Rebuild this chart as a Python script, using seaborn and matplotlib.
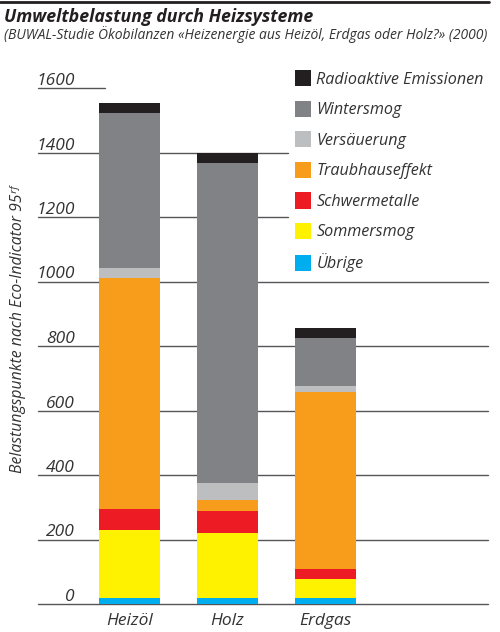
import numpy as np
import pandas as pd
import matplotlib.pyplot as plt
import seaborn as sns
from matplotlib.patches import Patch
from matplotlib.lines import Line2D

# values (Belastungspunkte)
systems = ["Heizöl", "Holz", "Erdgas"]
components = ["Übrige", "Sommersmog", "Schwermetalle", "Traubhauseffekt",
              "Versäuerung", "Wintersmog", "Radioaktive Emissionen"]
uebrige = [20, 20, 20]
sommersmog = [210, 199, 56]
schwermetalle = [66, 68, 32]
traubhaus = [714, 34, 549]
versaeuerung = [33, 53, 19]
wintersmog = [479, 993, 149]
radioaktiv = [31, 31, 31]
colors = ["#00aeef", "#fff200", "#ed1c24", "#f89c1c", "#bcbec0", "#808285", "#231f20"]
y_ticks = [0, 200, 400, 600, 800, 1000, 1200, 1400, 1600]

FONT = ["Open Sans", "Noto Sans", "DejaVu Sans"]

sns.set_style("white")
plt.rcParams["font.family"] = FONT

df = pd.DataFrame({"System": systems})
for name, vals in zip(components, [uebrige, sommersmog, schwermetalle, traubhaus,
                                   versaeuerung, wintersmog, radioaktiv]):
    df[name] = vals
cum = df.copy()
cum[components] = df[components].cumsum(axis=1)

fig = plt.figure(figsize=(5, 6.32), dpi=100)
ax = fig.add_axes([38 / 500, 28 / 632, 450 / 500, 516 / 632])

# stacked bars: draw the cumulative totals, tallest first
for comp, col in reversed(list(zip(components, colors))):
    sns.barplot(data=cum, x="System", y=comp, order=systems, color=col,
                saturation=1, width=0.622, linewidth=0, errorbar=None,
                ax=ax, zorder=2)

ax.set_xlim(-0.934, 3.658)
ax.set_ylim(0, 1600)
sns.despine(ax=ax, left=True, bottom=True)
ax.set_xlabel("")
ax.set_ylabel("")
ax.set_yticks([])
ax.tick_params(axis="x", length=0, pad=6.5, labelsize=12.5)
for lab in ax.get_xticklabels():
    lab.set_fontstyle("italic")
    lab.set_color("#333333")

# grid lines (some stop at the legend)
line_end = {1600: 0.149, 1400: 0.556, 1200: 0.556}
for v in y_ticks:
    ax.axhline(v, xmin=0, xmax=line_end.get(v, 1.0), color="#555557",
               lw=1.0, zorder=1, clip_on=False)
    ax.annotate(str(v), xy=(0.082, v), xycoords=ax.get_yaxis_transform(),
                xytext=(0, 3), textcoords="offset pixels", ha="right",
                va="baseline", fontsize=12.5, style="italic", color="#333333")

handles = [Patch(facecolor=c, edgecolor="none") for c in colors][::-1]
ax.legend(handles, components[::-1], loc="upper left",
          bbox_to_anchor=(295 / 500, 1 - 70 / 632), bbox_transform=fig.transFigure,
          frameon=False, borderpad=0, borderaxespad=0,
          handlelength=1.0, handleheight=1.19, handletextpad=0.32,
          labelspacing=0.8, prop={"style": "italic", "size": 11.6})
for t in ax.get_legend().get_texts():
    t.set_color("#333333")

ax.set_axisbelow(True)

fig.text(0.036, 1 - 330 / 632, "Belastungspunkte nach Eco-Indicator 95ʳᶠ",
         rotation=90, ha="center", va="center", fontsize=11.3, style="italic",
         color="#333333")

fig.add_artist(Line2D([0, 489 / 500], [1 - 1.5 / 632, 1 - 1.5 / 632],
                      color="#231f20", lw=2))
fig.text(4 / 500, 1 - 21.5 / 632, "Umweltbelastung durch Heizsysteme",
         fontsize=12.8, weight="bold", style="italic", va="baseline",
         color="#231f20")
fig.text(4 / 500, 1 - 39 / 632,
         "(BUWAL-Studie Ökobilanzen «Heizenergie aus Heizöl, Erdgas oder Holz?» (2000)",
         fontsize=10, style="italic", va="baseline", color="#333333")

fig.savefig("out.png", dpi=100)
